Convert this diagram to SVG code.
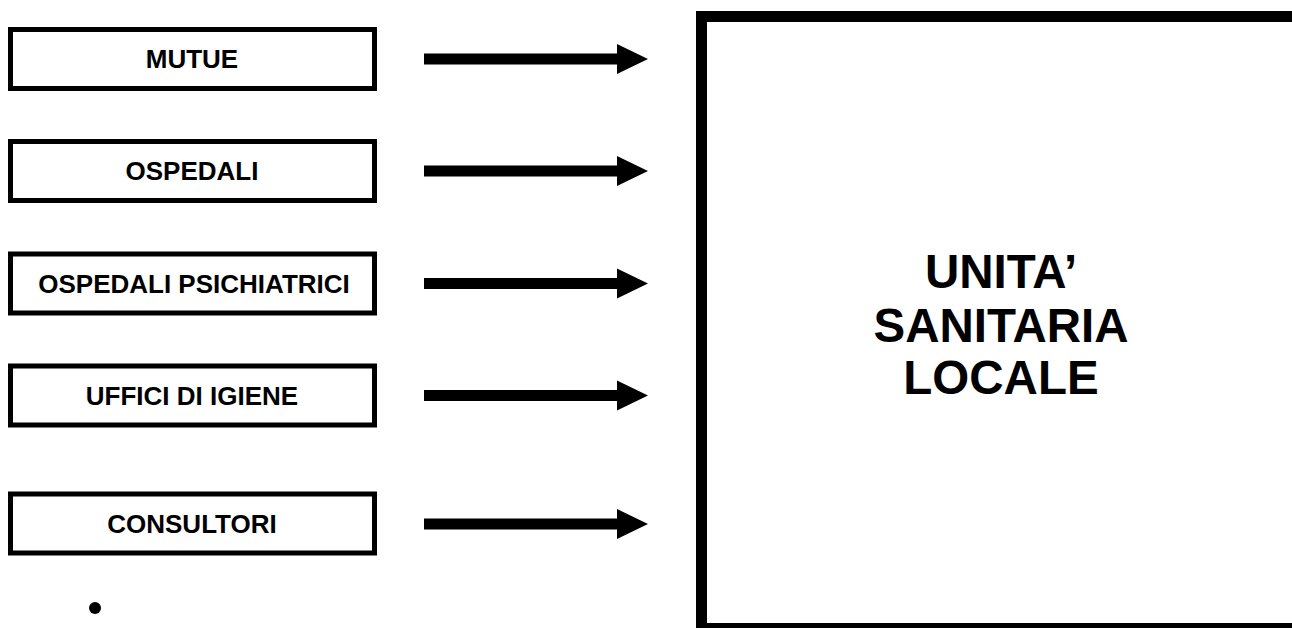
<svg xmlns="http://www.w3.org/2000/svg" width="1292" height="628" viewBox="0 0 1292 628">
  <defs>
    <style>
      .box { fill: #fff; stroke: #000; stroke-width: 5; }
      .big { fill: #fff; stroke: #000; stroke-width: 11; }
      .lbl { font-family: "Liberation Sans", Arial, sans-serif; font-weight: bold; font-size: 26px; fill: #000; text-anchor: middle; }
      .title { font-family: "Liberation Sans", Arial, sans-serif; font-weight: bold; font-size: 47.5px; fill: #000; text-anchor: middle; }
      .arrow { fill: #000; }
    </style>
    <!-- block arrow: shaft 424..617, head 617..648 -->
    <path id="blockArrow" class="arrow" d="M424,-5.5 H617 V-15 L648,0 L617,15 V5.5 H424 Z"/>
  </defs>
  <rect width="1292" height="628" fill="#fff"/>

  <g id="usl">
    <rect class="big" x="701.5" y="16.5" width="700" height="612"/>
    <text class="title" x="1001" y="288">UNITA’</text>
    <text class="title" x="1001" y="342">SANITARIA</text>
    <text class="title" x="1001" y="394">LOCALE</text>
  </g>

  <g id="mutue">
    <rect class="box" x="10.5" y="29.5" width="364" height="59"/>
    <text class="lbl" x="192" y="68">MUTUE</text>
  </g>
  <g id="ospedali">
    <rect class="box" x="10.5" y="141.5" width="364" height="59"/>
    <text class="lbl" x="192" y="180">OSPEDALI</text>
  </g>
  <g id="ospedali-psichiatrici">
    <rect class="box" x="10.5" y="254" width="364" height="59"/>
    <text class="lbl" x="194" y="292.5">OSPEDALI PSICHIATRICI</text>
  </g>
  <g id="uffici-igiene">
    <rect class="box" x="10.5" y="366" width="364" height="59"/>
    <text class="lbl" x="192" y="404.5">UFFICI DI IGIENE</text>
  </g>
  <g id="consultori">
    <rect class="box" x="10.5" y="494" width="364" height="59"/>
    <text class="lbl" x="192" y="533">CONSULTORI</text>
  </g>

  <g id="connectors">
    <use href="#blockArrow" transform="translate(0,59)"/>
    <use href="#blockArrow" transform="translate(0,171)"/>
    <use href="#blockArrow" transform="translate(0,283.5)"/>
    <use href="#blockArrow" transform="translate(0,395.5)"/>
    <use href="#blockArrow" transform="translate(0,524)"/>
  </g>

  <circle cx="95" cy="608" r="6" fill="#000"/>
</svg>
